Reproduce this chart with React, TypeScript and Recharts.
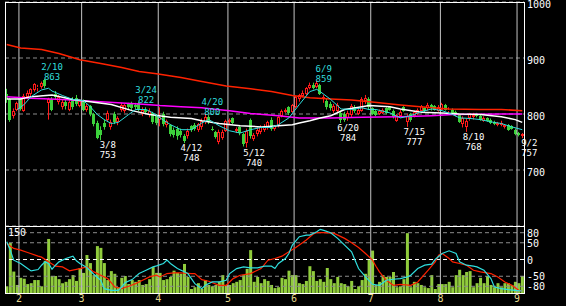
import React from "react";
import { ComposedChart, Bar, Line, XAxis, YAxis, CartesianGrid, ReferenceLine } from "recharts";

// trading days (2022, TSE calendar)
const janDays = [26, 27, 28, 31];
const febDays = [1, 2, 3, 4, 7, 8, 9, 10, 14, 15, 16, 17, 18, 21, 22, 24, 25, 28];
const marDays = [1, 2, 3, 4, 7, 8, 9, 10, 11, 14, 15, 16, 17, 18, 22, 23, 24, 25, 28, 29, 30, 31];
const aprDays = [1, 4, 5, 6, 7, 8, 11, 12, 13, 14, 15, 18, 19, 20, 21, 22, 25, 26, 27, 28];
const mayDays = [2, 6, 9, 10, 11, 12, 13, 16, 17, 18, 19, 20, 23, 24, 25, 26, 27, 30, 31];
const junDays = [1, 2, 3, 6, 7, 8, 9, 10, 13, 14, 15, 16, 17, 20, 21, 22, 23, 24, 27, 28, 29, 30];
const julDays = [1, 4, 5, 6, 7, 8, 11, 12, 13, 14, 15, 19, 20, 21, 22, 25, 26, 27, 28, 29];
const augDays = [1, 2, 3, 4, 5, 8, 9, 10, 12, 15, 16, 17, 18, 19, 22, 23, 24, 25, 26, 29, 30, 31];
const sepDays = [1, 2];

const opens = [
  836, 826, 797, 808, 826, 806, 830, 836, 842, 846,
  848, 860, 819, 826, 836, 821, 812, 822, 808, 826,
  829, 815, 824, 808, 814, 800, 784, 772, 784, 790,
  776, 800, 786, 808, 806, 818, 818, 816, 820, 800,
  808, 798, 802, 796, 790, 800, 780, 780, 772, 774,
  770, 760, 760, 778, 780, 772, 776, 786, 794, 774,
  768, 750, 758, 770, 786, 792, 770, 776, 764, 748,
  790, 756, 764, 768, 772, 776, 790, 774, 778, 796,
  804, 812, 804, 812, 826, 832, 836, 846, 852, 848,
  852, 826, 824, 818, 806, 806, 802, 800, 792, 798,
  812, 800, 806, 824, 826, 810, 806, 800, 802, 810,
  812, 806, 788, 796, 812, 786, 800, 796, 800, 806,
  810, 810, 816, 814, 806, 808, 816, 806, 808, 804,
  798, 782, 776, 792, 794, 800, 796, 788, 792, 790,
  786, 780, 780, 776, 780, 778, 772, 766, 760,
];
const highs = [
  845, 828, 810, 822, 830, 836, 842, 846, 855, 852,
  858, 863, 829, 830, 841, 834, 825, 826, 825, 830,
  834, 826, 826, 818, 816, 802, 788, 778, 790, 806,
  790, 804, 796, 820, 818, 820, 822, 820, 822, 812,
  812, 810, 804, 800, 812, 804, 790, 782, 776, 778,
  774, 764, 774, 780, 784, 784, 792, 800, 798, 778,
  770, 772, 772, 790, 792, 794, 776, 778, 766, 774,
  792, 766, 776, 780, 782, 788, 794, 780, 796, 808,
  810, 814, 818, 832, 836, 842, 848, 856, 856, 859,
  854, 834, 828, 822, 818, 820, 806, 804, 806, 818,
  816, 812, 830, 834, 830, 812, 808, 808, 810, 812,
  814, 808, 800, 808, 814, 800, 802, 806, 810, 816,
  812, 820, 818, 816, 816, 820, 818, 812, 810, 806,
  800, 796, 792, 802, 802, 802, 798, 796, 794, 792,
  788, 786, 788, 782, 782, 780, 774, 768, 766,
];
const lows = [
  820, 786, 792, 805, 806, 804, 826, 832, 840, 840,
  845, 846, 790, 805, 826, 817, 808, 808, 805, 808,
  814, 812, 805, 804, 796, 778, 755, 753, 772, 786,
  772, 782, 780, 804, 802, 808, 806, 808, 805, 796,
  800, 794, 782, 780, 778, 778, 776, 760, 758, 754,
  758, 748, 756, 768, 770, 768, 772, 782, 782, 770,
  756, 746, 754, 768, 780, 782, 766, 762, 742, 740,
  756, 752, 760, 764, 768, 772, 770, 770, 776, 794,
  802, 798, 802, 810, 822, 830, 834, 844, 844, 846,
  834, 820, 808, 806, 802, 802, 784, 786, 788, 794,
  802, 798, 804, 818, 808, 798, 796, 798, 800, 800,
  806, 792, 786, 794, 804, 777, 786, 794, 798, 804,
  802, 806, 806, 806, 804, 806, 806, 802, 800, 796,
  784, 776, 768, 788, 790, 794, 788, 786, 786, 782,
  780, 778, 778, 774, 770, 772, 762, 760, 757,
];
const closes = [
  826, 790, 806, 820, 809, 832, 838, 844, 853, 849,
  856, 850, 826, 808, 830, 830, 822, 814, 822, 812,
  817, 824, 808, 815, 800, 782, 758, 763, 776, 802,
  786, 786, 793, 816, 816, 812, 810, 812, 808, 808,
  804, 806, 786, 784, 794, 782, 787, 764, 762, 760,
  762, 752, 770, 772, 774, 782, 788, 795, 786, 772,
  759, 768, 768, 788, 790, 784, 774, 766, 746, 770,
  760, 762, 772, 776, 778, 786, 774, 778, 794, 806,
  808, 802, 816, 830, 834, 838, 846, 852, 846, 856,
  836, 830, 812, 810, 814, 816, 790, 790, 802, 814,
  806, 808, 826, 828, 812, 800, 798, 806, 808, 802,
  808, 794, 798, 804, 806, 796, 790, 804, 808, 814,
  806, 816, 810, 808, 812, 818, 808, 808, 802, 798,
  786, 792, 788, 800, 798, 796, 790, 792, 788, 784,
  782, 784, 784, 780, 772, 774, 764, 762, 764,
];
const volumes = [
  15, 112, 48, 18, 34, 32, 20, 22, 29, 29,
  15, 72, 121, 38, 38, 31, 22, 25, 31, 40,
  27, 56, 45, 85, 67, 40, 105, 101, 67, 29,
  49, 43, 13, 34, 38, 20, 29, 25, 29, 18,
  20, 31, 58, 45, 45, 29, 31, 36, 50, 45,
  43, 65, 36, 9, 13, 22, 9, 29, 18, 15,
  18, 25, 40, 18, 18, 22, 25, 29, 40, 54,
  96, 25, 36, 22, 31, 27, 18, 11, 13, 34,
  31, 50, 40, 40, 22, 20, 27, 60, 49, 27,
  31, 25, 56, 31, 22, 36, 22, 20, 15, 27,
  9, 15, 29, 43, 76, 95, 18, 25, 40, 36,
  36, 47, 13, 15, 31, 134, 13, 25, 22, 18,
  13, 11, 40, 9, 20, 20, 20, 25, 13, 40,
  52, 40, 47, 49, 13, 22, 34, 22, 38, 18,
  13, 22, 13, 22, 22, 18, 25, 22, 38,
];

// moving averages: [day index, price]
const maShort = [
  [3, 808], [5, 817], [7, 831], [10, 843], [12, 846], [13, 841], [16, 833], [19, 826], [22, 824], [24, 813],
  [26, 799], [28, 790], [30, 783], [32, 785], [35, 799], [37, 808], [40, 808], [42, 802], [44, 793], [47, 781],
  [50, 772], [53, 772], [56, 784], [58, 790], [61, 779], [64, 770], [67, 766], [70, 772], [73, 776], [76, 776],
  [78, 781], [81, 793], [84, 817], [87, 840], [89, 844], [90, 840], [93, 826], [96, 809], [99, 808], [102, 811],
  [104, 808], [106, 808], [110, 802], [113, 793], [116, 797], [119, 804], [122, 809], [125, 806], [128, 799],
  [130, 793], [133, 792], [136, 790], [139, 786], [142, 783], [145, 777], [148, 772],
];
const maMid = [
  [0, 827], [4, 827], [7, 831], [13, 834], [19, 826], [24, 822], [30, 817], [36, 806], [41, 799], [47, 794],
  [53, 792], [56, 788], [61, 783], [67, 779], [73, 777], [78, 779], [82, 781], [84, 784], [87, 788], [90, 793],
  [93, 797], [97, 808], [102, 813], [104, 815], [110, 813], [113, 809], [119, 803], [125, 802], [130, 800],
  [136, 799], [142, 795], [146, 790], [148, 785],
];
const maLong = [
  [0, 831], [7, 828], [16, 826], [27, 822], [38, 818], [44, 815], [50, 813], [56, 811], [59, 809], [64, 806],
  [70, 801], [78, 797], [84, 793], [93, 793], [102, 794], [113, 795], [122, 797], [128, 799], [142, 800], [148, 800],
];
const maYear = [
  [0, 924], [4, 918], [10, 915], [15, 908], [21, 897], [27, 890], [33, 883], [38, 876], [43, 872], [50, 865],
  [56, 858], [63, 850], [70, 845], [76, 840], [82, 833], [87, 829], [93, 827], [99, 825], [107, 820], [113, 816],
  [122, 811], [127, 809], [136, 808], [142, 808], [148, 806],
];

// oscillator (RCI): [day index, value]
const rciShort = [
  [0, 53], [1, 28], [2, -2], [4, -12], [6, -27], [7, -34], [9, -30], [10, -17], [11, -7], [12, -12],
  [13, -29], [14, -17], [15, -7], [17, 3], [19, 10], [20, -4], [21, -12], [23, -24], [25, -44], [27, -62],
  [28, -87], [30, -92], [32, -92], [33, -82], [34, -69], [36, -60], [38, -42], [40, -32], [42, -22], [43, -19],
  [45, -12], [46, -2], [47, -12], [49, -27], [52, -42], [54, -72], [56, -87], [57, -77], [59, -67], [61, -67],
  [63, -62], [64, -42], [66, -27], [68, -22], [70, -25], [72, -25], [74, -20], [76, -20], [77, -27], [78, -12],
  [80, 3], [81, 18], [82, 43], [84, 68], [86, 73], [87, 73], [89, 83], [90, 90], [91, 87], [93, 80],
  [95, 63], [97, 43], [99, 23], [100, -2], [101, -27], [103, -52], [105, -74], [107, -77], [109, -62], [111, -59],
  [113, -57], [115, -52], [116, -47], [118, -27], [120, -17], [122, -14], [123, 0], [125, 18], [127, 26], [129, 18],
  [130, -7], [132, -17], [134, -20], [135, -22], [137, -32], [139, -57], [140, -82], [142, -87], [144, -90],
  [146, -92], [148, -94],
];
const rciLong = [
  [0, 48], [2, 33], [4, 28], [6, 21], [9, 10], [10, 7], [12, -7], [14, -20], [16, -22], [18, -34],
  [21, -27], [23, -22], [25, -37], [27, -47], [29, -57], [31, -82], [33, -87], [35, -80], [37, -72], [39, -62],
  [41, -52], [43, -47], [44, -52], [46, -42], [48, -40], [50, -40], [53, -42], [54, -42], [56, -60], [58, -65],
  [61, -77], [63, -77], [65, -57], [67, -47], [70, -42], [73, -27], [75, -2], [77, 3], [79, 10], [81, 23],
  [83, 36], [86, 58], [88, 76], [89, 80], [91, 80], [94, 78], [97, 63], [99, 50], [101, 36], [103, 18],
  [105, -2], [106, -20], [107, -37], [109, -62], [111, -77], [113, -74], [116, -77], [118, -67], [121, -32],
  [123, -7], [124, 13], [125, 18], [127, 3], [128, -7], [130, -12], [132, -17], [134, -32], [136, -37],
  [139, -42], [141, -52], [143, -67], [145, -77], [147, -92], [148, -94],
];

const highMarks = ["2/10", "3/24", "4/20", "6/9"];
const lowMarks = ["3/8", "4/12", "5/12", "6/20", "7/15", "8/10", "9/2"];
const priceTicks = [700, 800, 900, 1000];
const oscTicks = [-80, -50, 0, 50, 80];

const UP = "#ff1a1a";
const DOWN = "#3cd23c";
const CYAN = "#30dede";
const MONTH = "#e4d88c";
const FONT = "'DejaVu Sans Mono', monospace";

const monthList: [number, number[]][] = [
  [1, janDays], [2, febDays], [3, marDays], [4, aprDays], [5, mayDays],
  [6, junDays], [7, julDays], [8, augDays], [9, sepDays],
];
const dates = monthList.flatMap(([m, days]) => days.map((d) => `${m}/${d}`));
const monthStarts = dates.filter((d, i) => i > 0 && d.split("/")[0] !== dates[i - 1].split("/")[0]);

const rows: any[] = dates.map((d, i) => ({
  d,
  o: opens[i],
  h: highs[i],
  l: lows[i],
  c: closes[i],
  v: volumes[i],
  hl: [lows[i], highs[i]],
}));
const put = (key: string, pts: number[][]) => pts.forEach(([i, v]) => (rows[i][key] = v));
put("ma5", maShort);
put("ma25", maMid);
put("ma75", maLong);
put("ma200", maYear);
put("rs", rciShort);
put("rl", rciLong);

const Candle = (props: any) => {
  const { x, y, width, height, payload } = props;
  if (!payload) return <g />;
  const { o, h, l, c } = payload;
  const top = Math.min(y, y + height);
  const k = h > l ? Math.abs(height) / (h - l) : 0;
  const py = (v: number) => top + (h - v) * k;
  const left = Math.round(x + width / 2 - 1.5);
  const mid = left + 1.5;
  const bTop = Math.round(py(Math.max(o, c)));
  const bBot = Math.round(py(Math.min(o, c)));
  if (c >= o) {
    return (
      <g>
        <line x1={mid} x2={mid} y1={py(h)} y2={bTop} stroke={UP} />
        <line x1={mid} x2={mid} y1={bBot} y2={py(l)} stroke={UP} />
        <rect x={left + 0.5} y={bTop + 0.5} width={2} height={Math.max(bBot - bTop - 1, 0)} fill="#000" stroke={UP} />
      </g>
    );
  }
  return (
    <g>
      <line x1={mid} x2={mid} y1={py(h)} y2={py(l)} stroke={DOWN} />
      <rect x={left} y={bTop} width={3} height={Math.max(bBot - bTop, 1)} fill={DOWN} />
    </g>
  );
};

const highLabel = (p: any) => {
  const { cx, cy, payload, index } = p;
  if (!highMarks.includes(payload.d)) return <g key={`h${index}`} />;
  return (
    <g key={`h${index}`} fill={CYAN} fontSize={9} textAnchor="middle">
      <text x={cx + 7} y={cy - 9}>{payload.d}</text>
      <text x={cx + 7} y={cy + 1}>{payload.h}</text>
    </g>
  );
};

const lowLabel = (p: any) => {
  const { cx, cy, payload, index } = p;
  if (!lowMarks.includes(payload.d)) return <g key={`l${index}`} />;
  return (
    <g key={`l${index}`} fill="#fff" fontSize={9} textAnchor="middle">
      <text x={cx + 7} y={cy + 8}>{payload.d}</text>
      <text x={cx + 7} y={cy + 18}>{payload.l}</text>
    </g>
  );
};

const rightTick = (dy: number) => (p: any) => (
  <text x={p.x} y={p.y + dy} fill="#fff" fontSize={10} textAnchor="start">
    {p.payload.value}
  </text>
);

export default function App() {
  return (
    <div style={{ position: "absolute", left: 0, top: 0, width: 566, height: 306, background: "#000", fontFamily: FONT }}>
      <div style={{ position: "absolute", left: 0, top: 0 }}>
        <ComposedChart width={566} height={226} data={rows} margin={{ top: 2, right: 0, bottom: 0, left: 5 }} barCategoryGap={0}>
          <CartesianGrid vertical={false} stroke="#8c8c8c" strokeDasharray="4 3" />
          <XAxis dataKey="d" hide />
          <YAxis
            orientation="right"
            width={42}
            domain={[600, 1000]}
            ticks={priceTicks}
            interval={0}
            axisLine={false}
            tickLine={false}
            tickSize={0}
            tickMargin={3}
            tick={rightTick(6)}
          />
          {monthStarts.map((d) => (
            <ReferenceLine key={d} x={d} position="start" stroke="#c4c4c4" />
          ))}
          <Bar dataKey="hl" shape={Candle} isAnimationActive={false} />
          <Line dataKey="ma200" stroke="#ff2200" strokeWidth={1.5} dot={false} activeDot={false} connectNulls isAnimationActive={false} />
          <Line dataKey="ma75" stroke="#ff00ff" strokeWidth={1.5} dot={false} activeDot={false} connectNulls isAnimationActive={false} />
          <Line dataKey="ma25" stroke="#ffffff" strokeWidth={1.5} dot={false} activeDot={false} connectNulls isAnimationActive={false} />
          <Line dataKey="ma5" stroke={CYAN} strokeWidth={1} dot={false} activeDot={false} connectNulls isAnimationActive={false} />
          <Line dataKey="h" stroke="none" dot={highLabel} activeDot={false} isAnimationActive={false} />
          <Line dataKey="l" stroke="none" dot={lowLabel} activeDot={false} isAnimationActive={false} />
        </ComposedChart>
      </div>
      <div style={{ position: "absolute", left: 0, top: 226 }}>
        <ComposedChart width={566} height={80} data={rows} margin={{ top: 0, right: 0, bottom: 13, left: 5 }} barCategoryGap="10%">
          <XAxis dataKey="d" hide />
          <YAxis
            yAxisId="rci"
            orientation="right"
            width={42}
            domain={[-100, 100]}
            ticks={oscTicks}
            interval={0}
            axisLine={false}
            tickLine={false}
            tickSize={0}
            tickMargin={3}
            tick={rightTick(4)}
          />
          <YAxis yAxisId="vol" hide domain={[0, 150]} />
          {oscTicks.map((t) => (
            <ReferenceLine
              key={t}
              yAxisId="rci"
              y={t}
              stroke={t === 0 ? "#ffffff" : "#8c8c8c"}
              strokeDasharray="4 3"
            />
          ))}
          {monthStarts.map((d) => (
            <ReferenceLine
              key={d}
              yAxisId="rci"
              x={d}
              position="start"
              stroke="#c4c4c4"
              label={{ value: d.split("/")[0], position: "bottom", offset: 2, fill: MONTH, fontSize: 10 }}
            />
          ))}
          <ReferenceLine
            yAxisId="vol"
            y={150}
            stroke="none"
            label={{ value: "150", position: "insideTopLeft", offset: 3, fill: "#fff", fontSize: 10 }}
          />
          <Bar yAxisId="vol" dataKey="v" fill="#90cc3c" isAnimationActive={false} />
          <Line yAxisId="rci" dataKey="rl" stroke="#ff2200" strokeWidth={1.2} dot={false} activeDot={false} connectNulls isAnimationActive={false} />
          <Line yAxisId="rci" dataKey="rs" stroke={CYAN} strokeWidth={1.2} dot={false} activeDot={false} connectNulls isAnimationActive={false} />
        </ComposedChart>
      </div>
      <div style={{ position: "absolute", left: 5, top: 2, width: 520, height: 292, border: "1px solid #fff", boxSizing: "border-box", pointerEvents: "none" }} />
      <div style={{ position: "absolute", left: 5, top: 226, width: 520, height: 1, background: "#fff", pointerEvents: "none" }} />
    </div>
  );
}
